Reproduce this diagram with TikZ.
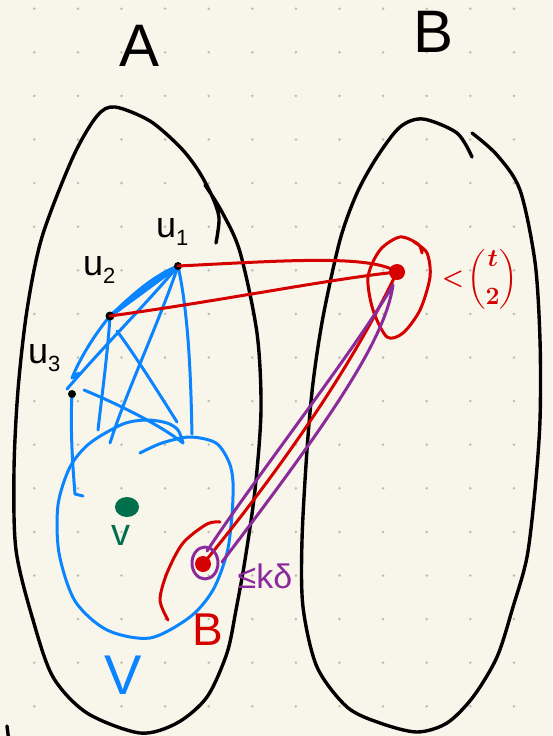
\documentclass[tikz,border=0pt]{standalone}
\usepackage{fontspec}
\usepackage{amsmath}
\setmainfont{Liberation Sans}
\usetikzlibrary{positioning, calc}

\definecolor{paper}{HTML}{F8F6EA}
\definecolor{griddot}{HTML}{BDBCB2}
\definecolor{inkred}{HTML}{D50000}
\definecolor{inkblue}{HTML}{0A84FF}
\definecolor{inkpurple}{HTML}{8B2A9B}
\definecolor{inkgreen}{HTML}{00704C}

% subscript of a vertex name
\newcommand{\usub}[1]{\raisebox{-8pt}{\fontsize{22}{22}\selectfont #1}}

\begin{document}
\begin{tikzpicture}[
    x=1pt, y=-1pt,
    % --- Pen styles ---
    pen/.style={line width=3pt, line cap=round, line join=round},
    black pen/.style={pen, draw=black, line width=3.4pt},
    red pen/.style={pen, draw=inkred},
    blue pen/.style={pen, draw=inkblue},
    purple pen/.style={pen, draw=inkpurple},
    % --- Labels ---
    set label/.style={font=\fontsize{60}{62}\selectfont, inner sep=0pt},
    vtx label/.style={font=\fontsize{36}{38}\selectfont, inner sep=0pt,
                      anchor=base west},
    ink label/.style={inner sep=0pt},
  ]

  %% ---- Paper ----
  \fill[paper] (0,0) rectangle (552,736);
  \useasboundingbox (0,0) rectangle (552,736);
  \foreach \i in {0,...,11}
    \foreach \j in {0,...,16}
      \fill[griddot] (34.3+43.6*\i, 8.7+43.6*\j) circle (1.4pt);

  %% ---- Points ----
  \coordinate (u1) at (178,266);
  \coordinate (u2) at (110,316);
  \coordinate (u3) at (72,394);
  \coordinate (bB) at (397,272);
  \coordinate (bA) at (203,564);
  \coordinate (v)  at (127,507);

  % free ends of the blue edges (on the top of V)
  \coordinate (e1) at (72,378);
  \coordinate (e2) at (67,389);
  \coordinate (e3) at (98,430);
  \coordinate (e4a) at (117,331);
  \coordinate (e4) at (177,422);
  \coordinate (e5) at (110,443);
  \coordinate (e6) at (192,434);
  \coordinate (e7) at (75,494);
  \coordinate (e8a) at (84,390);
  \coordinate (e8) at (183,443);

  %% ---- Sets A and B ----
  \draw[black pen] plot[smooth] coordinates {
    (216,243) (219,218) (212,196) (198,170) (180,147) (150,121) (115,107)
    (97,116) (73,157) (42,237) (27,310) (18,390) (14,470) (16,550) (33,620)
    (53,677) (87,713) (140,733) (177,723) (207,697) (227,653) (236,610)
    (245,560) (255,490) (261,410) (257,333) (240,252) (222,212) (205,185)};
  \draw[black pen] plot[smooth] coordinates {
    (472,157) (457,133) (423,119) (400,127) (377,157) (357,193) (340,240)
    (323,317) (313,383) (307,450) (302,540) (303,607) (317,667) (347,707)
    (380,723) (417,732) (447,723) (473,697) (497,657) (513,607) (527,557)
    (535,490) (540,420) (540,340) (535,262) (520,190) (497,155) (472,133)};
  \draw[black pen] (7,726) -- (9,742);

  \node[set label] (labA) at (140,46) {A};
  \node[set label] (labB) at (434,32) {B};

  %% ---- Set V ----
  \draw[blue pen] plot[smooth] coordinates {
    (183,443) (178,430) (167,423) (147,420) (123,424) (90,443) (70,467)
    (58,505) (59,553) (75,601) (107,630) (150,638) (190,617) (213,590)
    (227,553) (232,515) (233,482) (229,462) (216,443) (190,437) (162,443)
    (140,453)};
  \node[ink label, text=inkblue, font=\fontsize{56}{58}\selectfont]
    (labV) at (123,675) {V};

  %% ---- Blue edges ----
  \draw[blue pen, line width=4pt] (u1) -- (u2);
  \draw[blue pen] (u1) .. controls (150,284) and (130,300) .. (u2);
  \draw[blue pen] (u1) .. controls (155,275) and (135,292) .. (u2);
  \draw[blue pen] (u2) .. controls (95,334) and (80,358) .. (e1) -- ++(7,-5);
  \draw[blue pen] (u1) .. controls (148,302) and (105,345) .. (e2);
  \draw[blue pen] (u2) .. controls (108,350) and (102,395) .. (e3);
  \draw[blue pen] (e4a) .. controls (135,355) and (160,395) .. (e4);
  \draw[blue pen] (u1) .. controls (160,320) and (125,395) .. (e5);
  \draw[blue pen] (u1) .. controls (190,320) and (191,395) .. (e6);
  \draw[blue pen] (u3) .. controls (70,430) and (73,470) .. (e7) -- ++(8,2);
  \draw[blue pen] (e8a) .. controls (120,405) and (160,425) .. (e8);

  %% ---- Vertices ----
  \fill (u1) circle (4pt);
  \fill (u2) circle (4.5pt);
  \fill (u3) circle (4pt);
  \node[vtx label] (lu1) at (156,237) {u\usub{1}};
  \node[vtx label] (lu2) at (83,275) {u\usub{2}};
  \node[vtx label] (lu3) at (28,363) {u\usub{3}};

  \fill[inkgreen] (v) ellipse [x radius=12, y radius=10];
  \node[ink label, text=inkgreen, font=\fontsize{38}{40}\selectfont]
    (lv) at (121,535) {v};

  %% ---- Red part ----
  \draw[red pen] (u1) .. controls (280,261) and (370,254) .. (bB);
  \draw[red pen] (u2) .. controls (220,301) and (330,279) .. (bB);
  \draw[red pen] (bA) .. controls (280,470) and (350,370) .. (bB);
  \fill[inkred] (bB) circle (8pt);
  \fill[inkred] (bA) circle (8pt);
  \draw[red pen] plot[smooth] coordinates {
    (422,253) (418,244) (400,237) (380,250) (368,277) (373,310) (387,337)
    (403,333) (420,310) (430,277) (427,253) (414,242)};
  \draw[red pen] plot[smooth] coordinates {
    (220,522) (207,524) (183,543) (167,573) (160,600) (168,620)};
  \node[ink label, text=inkred, font=\fontsize{32}{34}\selectfont\boldmath]
    (lt) at (480,279) {$<\!\dbinom{t}{2}$};
  \node[ink label, text=inkred, font=\fontsize{46}{48}\selectfont]
    (lB) at (208,630) {B};

  %% ---- Purple part ----
  \draw[purple pen] ($(bA)+(2,-1)$) ellipse [x radius=13, y radius=16];
  \draw[purple pen] ($(bA)+(4,-13)$)
    .. controls (255,478) and (355,350) .. ($(bB)+(-4,13)$)
    .. controls (385,340) and (330,420) .. ($(bA)+(19,-2)$);
  \node[ink label, text=inkpurple, font=\fontsize{34}{36}\selectfont]
    (lk) at (265,576) {≤kδ};

\end{tikzpicture}
\end{document}
